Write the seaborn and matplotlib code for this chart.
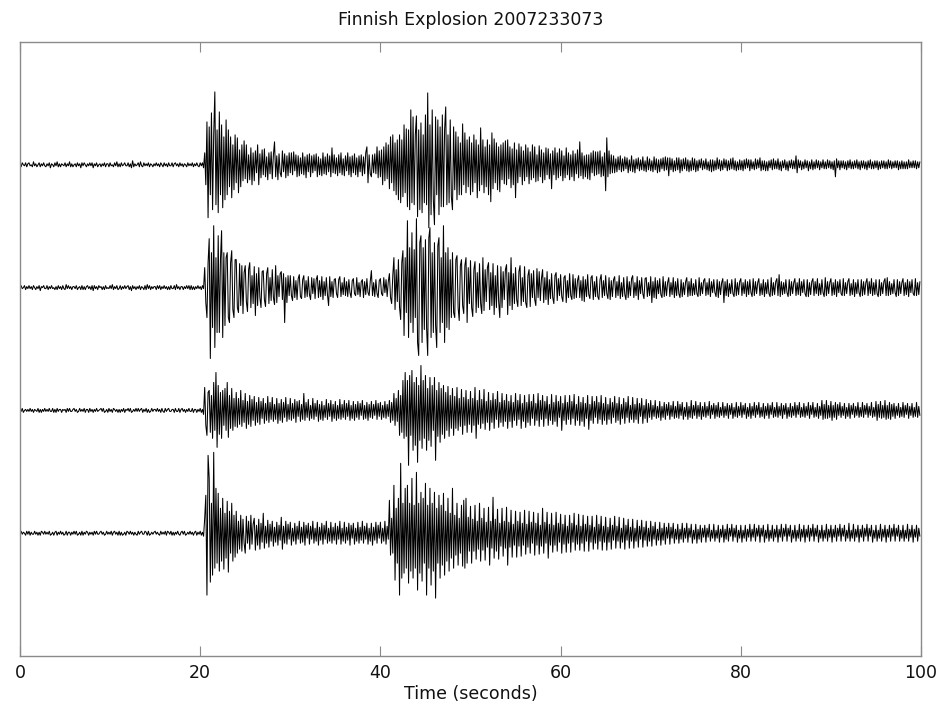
import numpy as np
import pandas as pd
import matplotlib
matplotlib.use("Agg")
import matplotlib.pyplot as plt
import seaborn as sns

# Four-channel recording of the explosion, 8 samples per second (relative counts).
DT = 0.125

ch1 = [
    1,-2,2,0,-1,2,-2,1,  2,-1,0,-2,3,-1,1,-2,  0,2,-2,1,-1,2,-1,-2,  1,-1,2,-3,1,0,-2,2,  -1,3,-2,1,-2,1,0,-1,
    2,-2,1,-1,3,-2,1,-2,  0,1,-2,2,-1,1,-3,2,  -1,2,0,-2,1,-1,2,-1,  2,-3,1,-1,2,-2,0,1,  -2,1,-1,2,-2,1,1,-2,
    2,-1,0,-2,2,-1,3,-2,  1,-2,2,-1,0,2,-1,-1,  2,-2,1,-3,4,-2,1,-1,  0,2,-2,3,-1,-2,2,-1,  1,-1,2,-2,1,0,-2,1,
    -1,2,-1,1,-2,2,0,-2,  2,-1,1,-2,2,-1,-1,2,  -2,1,2,-1,1,-2,2,-1,  1,-2,1,0,-2,2,-1,1,  -1,2,-2,1,-1,2,-1,-2,
    2,-1,2,-3,12,-20,43,-53,  38,-30,52,-45,30,73,-40,35,  -48,53,-30,40,-43,28,-35,45,  -30,35,-22,28,-33,20,-25,30,  -18,27,-28,15,-22,20,-16,24,
    -14,20,-18,10,-15,17,-20,12,  -16,14,-8,20,-20,11,-13,15,  -10,16,-12,8,-15,12,-9,13,  -14,10,23,-12,9,-15,11,-8,  -12,14,-7,11,-13,9,-11,12,
    -8,12,-10,13,-6,10,-12,9,  -11,7,-9,12,-10,8,-13,10,  -7,11,-12,9,-8,10,-6,11,  -12,8,-10,6,-11,12,-9,8,  -10,11,-7,9,-12,17,-8,10,
    -9,7,-11,10,-8,12,-10,6,  -11,9,-6,12,-10,8,-12,9,  -8,11,-10,7,-12,9,-7,10,  -11,8,-9,12,18,-18,10,-9,  -12,10,-8,11,-9,18,-13,14,
    -12,15,-20,18,-16,22,-14,20,  -24,28,-18,30,-26,22,-30,25,  -35,30,-38,25,-32,40,-28,36,  -42,35,-45,55,-38,48,-40,30,  49,-52,35,-45,42,-48,30,-38,
    50,-40,72,-63,40,-50,55,-35,  -60,48,-30,45,-50,38,-42,50,  -42,35,58,-40,30,-38,45,-32,  -45,38,-25,33,-35,28,-30,22,  -30,41,-20,32,-28,25,-22,28,
    -30,22,-27,30,-18,25,-33,20,  -26,37,-20,25,-28,18,-22,25,  -30,20,-37,32,-24,26,-18,22,  -25,18,-27,20,-15,22,-19,24,  -20,25,-14,18,-23,16,-20,22,
    -33,15,-18,21,-12,18,-20,14,  -16,20,-12,17,-19,13,-15,20,  -13,18,-17,10,-16,19,-12,15,  -18,12,-15,17,-10,16,-14,11,  -24,14,-10,17,-15,12,-13,16,
    -11,14,-16,9,-13,17,-10,12,  -15,10,-12,14,-16,11,-9,15,  -13,23,-11,12,-14,9,-12,10,  -14,10,-15,12,-8,14,-11,13,  -10,13,-9,14,-12,8,-11,12,
    -26,27,-12,14,-9,10,-8,9,  -8,6,-7,8,-5,9,-7,6,  -6,8,-4,7,-8,5,-6,9,  -7,5,-8,6,-4,7,-6,5,  -5,8,-6,4,-7,8,-5,6,
    -6,4,-7,8,-5,6,-8,5,  -7,6,-4,7,-6,8,-5,7,  -11,7,-5,6,-7,4,-6,7,  -5,7,-8,5,-6,6,-4,7,  -6,5,-7,4,-6,7,-5,6,
    -7,4,-6,5,-3,6,-5,4,  -4,6,-5,3,-6,5,-7,5,  -6,4,-5,7,-4,5,-6,4,  -5,6,-3,5,-6,4,-5,6,  -4,7,-5,4,-6,3,-5,5,
    -5,4,-6,5,-4,6,-3,5,  -6,5,-4,3,-5,6,-4,5,  -3,7,-6,4,-5,4,-6,3,  -6,4,-3,5,-5,6,-4,4,  -4,6,-5,3,-6,4,-3,5,
    -5,3,-6,4,-3,5,-4,4,  -4,9,-8,5,-3,4,-5,3,  -4,5,-3,4,-6,3,-4,5,  -5,3,-4,5,-3,4,-5,3,  -3,5,-4,3,-4,5,-3,4,
    -4,3,-5,4,-12,6,-3,4,  -5,4,-3,4,-4,3,-5,4,  -3,5,-4,3,-4,4,-3,5,  -4,3,-5,4,-3,4,-4,3,  -5,4,-3,5,-4,3,-4,4,
    -3,4,-5,3,-4,4,-3,4,  -4,3,-4,5,-3,4,-4,3,  -3,4,-3,4,-5,3,-4,4,  -4,3,-4,3,-4,5,-3,3,  -3,4,-3,4,-4,3,-3,3,
]

ch2 = [
    -1,2,-1,0,2,-2,1,-1,  2,-1,1,-2,2,0,-2,1,  -1,2,-3,1,0,2,-1,-1,  2,-2,1,-1,2,-1,0,-2,  1,-2,2,-1,1,-2,2,-1,
    -2,3,-1,2,-1,1,-2,1,  1,-1,2,-2,0,1,-2,2,  -2,1,-2,1,2,-1,1,-2,  2,-3,2,-1,1,-2,2,0,  1,-2,1,-2,2,-1,0,-1,
    2,-1,3,-2,1,-1,2,-2,  -1,2,-2,1,-1,2,-1,1,  2,-2,1,-3,2,-1,1,-2,  1,-1,2,-2,1,0,-2,2,  -2,3,-1,2,-2,1,-1,1,
    1,-2,2,-1,2,-2,1,-1,  2,-1,1,-2,1,-2,2,-1,  -1,2,-2,3,-1,1,-2,1,  1,-2,1,-1,2,-1,2,-2,  2,-2,1,-2,1,-1,2,-1,
    1,-2,2,-1,20,-15,-30,25,  49,-71,35,-40,62,-60,30,-45,  52,-45,28,57,-50,35,-38,30,  35,-30,-35,25,37,-22,-30,28,  28,-20,-25,24,-18,22,-26,15,
    22,-14,-24,18,25,-20,12,-16,  21,-28,14,-18,20,-10,-20,16,  17,-12,-19,14,20,-16,10,-13,  18,-10,-17,22,-15,12,-9,14,  16,-12,14,-35,10,-15,12,-8,
    12,-8,-13,11,-10,7,-12,9,  13,-9,-11,8,12,-10,7,-9,  11,-7,-12,10,-6,9,-11,8,  12,-10,7,-9,11,-12,6,-8,  10,-7,-18,11,-9,6,-10,8,
    9,-6,-10,8,11,-9,5,-7,  10,-8,6,-9,8,-5,-10,7,  9,-6,-8,10,-7,5,-9,6,  8,-10,6,-7,9,-5,-8,6,  17,-8,5,-9,8,-6,-10,7,
    9,-6,-8,10,-5,8,-9,6,  14,-10,-16,12,30,-22,18,-14,  28,-20,-32,25,37,-48,30,-25,  67,-50,40,-35,55,-45,38,-30,  69,-55,-68,45,52,-55,40,-42,
    48,-40,-68,50,60,-50,35,-45,  45,-38,-60,42,50,-45,30,-35,  62,-55,35,-40,40,-42,28,-30,  35,-25,-30,28,32,-20,-33,22,  28,-18,-26,22,30,-35,20,-16,
    27,-20,-29,18,26,-25,15,-20,  24,-16,-26,30,-23,18,-14,20,  25,-22,15,-18,24,-27,12,-20,  22,-14,-30,21,-20,16,-12,18,  23,-27,15,-18,30,-22,14,-16,
    20,-12,-19,16,22,-18,10,-14,  21,-15,-20,12,18,-19,14,-10,  17,-12,-18,19,-10,16,-13,9,  18,-15,10,-12,16,-17,8,-11,  14,-10,-16,12,15,-13,9,-8,
    13,-9,-14,10,12,-15,7,-10,  14,-8,-12,13,-11,9,-10,7,  12,-10,7,-13,11,-14,8,-9,  13,-7,-11,10,12,-12,6,-9,  11,-9,-12,8,13,-10,7,-8,
    12,-6,-11,10,-12,7,-9,8,  11,-10,6,-8,12,-11,5,-9,  10,-7,-12,11,-10,6,-8,9,  12,-10,5,-8,11,-12,7,-6,  10,-6,-11,9,10,-9,5,-8,
    11,-15,6,-10,10,-11,7,-6,  9,-7,-10,11,-9,6,-8,5,  10,-9,5,-7,10,-10,6,-8,  9,-6,-10,8,-9,5,-7,6,  10,-9,6,-8,9,-8,4,-7,
    8,-6,-9,10,-8,5,-6,7,  9,-8,5,-7,9,-9,6,-5,  8,-5,-9,8,-10,6,-7,5,  9,-15,6,-8,8,-9,4,-6,  8,-6,-9,9,-8,5,-7,6,
    9,-8,5,-6,8,-9,6,-7,  8,-5,-9,9,-8,6,-6,5,  9,-8,4,-7,8,-9,5,-6,  8,-6,-9,10,-8,5,-7,6,  9,-8,13,-9,6,-7,5,-6,
    8,-5,-9,8,-8,6,-6,5,  9,-8,5,-7,9,-8,6,-5,  8,-6,-9,8,-9,5,-7,6,  9,-8,6,-6,9,-8,4,-7,  8,-5,-9,10,-8,6,-6,5,
    9,-8,5,-7,8,-9,6,-5,  8,-6,-8,9,-8,5,-6,6,  9,-8,4,-7,8,-9,5,-6,  8,-5,-9,8,-8,6,-7,5,  9,-8,6,-6,9,-8,5,-7,
    8,-6,-9,8,-8,5,-6,6,  9,-8,10,-8,6,-7,4,-6,  8,-5,-9,8,-8,6,-6,5,  9,-8,5,-7,8,-9,6,-5,  8,-6,-8,9,-8,5,-7,6,
]

ch3 = [
    1,-1,2,-2,0,1,-1,1,  -1,2,-1,1,-2,1,0,-1,  2,-2,1,-2,1,-1,2,-1,  1,-1,2,-1,-1,2,-2,1,  -2,2,-1,1,1,-2,1,0,
    1,-2,2,-1,2,-1,-1,1,  2,-1,1,-2,-1,2,-1,1,  -1,2,-2,1,1,-2,2,-1,  1,-2,1,-1,2,-1,0,1,  2,-1,2,-2,-1,1,-2,2,
    -1,1,-2,2,1,-1,1,-2,  1,-2,1,-1,2,-2,1,0,  2,-1,2,-2,-1,1,-1,2,  -1,2,-1,1,2,-2,1,-1,  2,-2,1,-2,-1,2,-1,1,
    1,-1,2,-1,1,-2,2,-1,  -2,2,-1,1,2,-1,-1,1,  1,-2,2,-1,-1,2,-2,1,  2,-1,1,-2,1,-1,2,-1,  -1,2,-2,1,1,-2,1,-1,
    2,-2,1,-4,23,-15,-25,18,  20,-22,15,-28,28,-20,38,-37,  25,-24,18,-28,20,-15,22,-20,  28,-27,15,-18,22,-20,12,-16,  18,-17,12,-14,20,-16,10,-12,
    17,-18,9,-14,15,-16,11,-10,  14,-15,8,-12,13,-14,9,-8,  12,-13,7,-10,14,-12,8,-9,  13,-11,6,-9,12,-13,7,-10,  11,-12,8,-7,13,-11,6,-9,
    12,-10,7,-8,11,-12,9,-6,  10,-11,6,-9,17,-10,8,-7,  11,-10,5,-8,12,-9,7,-6,  10,-11,6,-9,9,-10,5,-7,  11,-9,7,-6,10,-11,6,-8,
    9,-10,5,-8,11,-9,6,-7,  10,-9,7,-6,10,-10,5,-8,  9,-10,6,-7,9,-9,7,-5,  10,-9,5,-8,8,-10,6,-7,  9,-8,6,-5,10,-9,7,-6,
    8,-9,5,-7,9,-8,6,-6,  10,-12,8,-10,17,-15,12,-11,  20,-25,15,-22,30,-28,38,-26,  30,-55,35,-25,40,-40,28,-35,  33,-52,25,-30,45,-38,30,-28,
    35,-40,22,-30,33,-36,25,-20,  33,-50,20,-26,28,-32,22,-24,  25,-28,18,-20,24,-26,15,-18,  22,-25,14,-18,23,-20,12,-16,  21,-24,13,-15,20,-22,11,-14,
    19,-22,12,-15,23,-28,10,-14,  20,-18,11,-13,21,-19,9,-12,  18,-20,10,-12,17,-18,11,-9,  19,-17,8,-12,17,-16,10,-11,  16,-18,9,-11,15,-17,8,-10,
    17,-15,10,-9,16,-18,7,-11,  15,-17,8,-12,16,-15,9,-8,  16,-15,7,-10,17,-16,10,-9,  15,-16,9,-8,14,-15,6,-10,  16,-14,8,-11,15,-16,9,-7,
    14,-20,7,-10,15,-14,8,-9,  15,-14,9,-8,16,-15,6,-10,  14,-15,8,-11,13,-16,7,-8,  15,-19,6,-10,14,-13,9,-7,  14,-13,8,-9,15,-14,7,-10,
    13,-14,6,-9,12,-13,8,-7,  14,-12,7,-10,13,-14,6,-8,  12,-13,8,-7,14,-12,5,-9,  13,-12,6,-9,12,-13,7,-6,  12,-13,5,-8,11,-12,7,-7,
    10,-9,5,-6,10,-8,4,-7,  9,-10,4,-7,8,-9,6,-5,  8,-9,5,-6,9,-8,4,-7,  9,-8,6,-5,8,-9,3,-6,  8,-9,4,-7,10,-8,5,-5,
    9,-8,5,-6,8,-9,4,-6,  8,-7,4,-5,9,-8,5,-4,  7,-8,5,-6,8,-7,3,-5,  8,-7,4,-5,7,-8,5,-4,  7,-8,3,-6,8,-7,4,-5,
    8,-7,5,-4,7,-8,3,-6,  7,-8,4,-5,8,-7,5,-4,  8,-7,3,-6,7,-8,4,-5,  7,-8,5,-4,8,-7,3,-6,  8,-7,4,-5,7,-8,5,-4,
    7,-8,3,-6,7,-7,4,-5,  8,-7,5,-4,8,-7,3,-6,  7,-7,4,-5,8,-8,5,-4,  8,-7,3,-6,7,-8,4,-5,  10,-9,6,-8,10,-8,5,-7,
    9,-10,5,-7,8,-9,6,-5,  8,-7,4,-5,7,-8,3,-6,  7,-8,5,-4,7,-7,4,-5,  8,-7,3,-6,8,-7,5,-4,  7,-7,4,-5,8,-7,3,-6,
    9,-10,6,-7,9,-8,5,-7,  10,-9,5,-8,8,-9,6,-6,  7,-8,4,-5,7,-7,3,-6,  8,-7,5,-4,7,-8,4,-5,  7,-7,3,-6,8,-7,4,-5,
]

ch4 = [
    -1,2,-1,1,0,-2,2,-1,  2,-2,1,-1,-1,2,-1,1,  -2,1,-2,2,1,-1,2,-1,  1,-1,2,-2,-1,1,-2,1,  2,-2,1,-1,2,-1,1,-2,
    -1,2,-2,1,1,-2,1,-1,  2,-1,2,-2,-1,1,-2,2,  -2,1,-1,2,1,-2,1,-1,  1,-2,2,-1,2,-1,-1,1,  2,-1,1,-2,-1,2,-1,1,
    -1,2,-2,1,2,-1,1,-2,  2,-2,1,-2,-1,1,-2,2,  1,-1,2,-1,1,-2,1,-1,  -2,2,-1,1,2,-1,-1,2,  1,-2,2,-2,-1,1,-1,1,
    2,-1,1,-1,-2,2,-1,1,  -1,2,-2,2,1,-1,2,-2,  1,-2,1,-1,2,-1,-2,1,  2,-1,2,-2,-1,1,-1,2,  -1,1,-2,1,2,-2,1,-1,
    2,-2,1,-3,15,38,-62,78,  55,-49,30,-42,81,-35,45,-30,  40,-38,25,-28,35,-36,20,-25,  32,-39,22,-20,30,-28,18,-24,  22,-20,12,-16,18,-18,14,-10,
    -20,17,-10,12,-16,18,-11,9,  15,-17,8,-12,14,-16,10,-9,  20,-15,7,-10,13,-14,9,-8,  12,-13,6,-9,11,-12,8,-7,  16,-16,7,-10,12,-11,9,-6,
    11,-12,5,-8,10,-11,7,-6,  12,-10,6,-9,11,-12,8,-5,  10,-11,7,-6,12,-10,5,-8,  11,-12,6,-7,10,-11,8,-6,  12,-10,5,-8,11,-10,6,-7,
    10,-11,7,-6,12,-11,5,-8,  11,-10,6,-7,10,-12,8,-5,  10,-11,5,-8,11,-10,6,-7,  12,-10,7,-6,10,-11,5,-8,  10,-12,6,-7,11,-10,8,-5,
    11,-10,5,-8,12,-11,7,-6,  33,-22,15,-20,48,-47,25,-30,  35,-62,70,-45,30,-40,45,-35,  48,-50,30,-38,55,-45,28,-35,  61,-57,30,-40,41,-48,35,-30,
    50,-62,28,-35,45,-52,30,-38,  41,-65,25,-30,38,-45,28,-32,  40,-42,22,-28,35,-38,20,-25,  45,-35,18,-22,30,-32,15,-20,  28,-33,33,-35,35,-30,16,-18,
    27,-30,14,-18,28,-26,12,-16,  30,-28,15,-17,25,-27,11,-14,  26,-32,12,-15,36,-25,14,-18,  24,-26,10,-13,25,-23,12,-15,  26,-32,11,-14,23,-24,9,-12,
    22,-24,12,-13,21,-23,10,-12,  23,-21,9,-14,22,-20,11,-10,  21,-22,10,-12,20,-21,8,-13,  25,-20,11,-10,21,-25,9,-12,  20,-19,8,-12,21,-18,10,-9,
    19,-20,9,-11,18,-19,7,-10,  18,-19,10,-9,20,-17,8,-11,  19,-17,7,-10,18,-18,9,-8,  17,-18,8,-9,17,-16,6,-10,  18,-16,9,-8,17,-17,7,-9,
    16,-17,6,-9,15,-16,8,-7,  17,-15,7,-8,16,-15,5,-9,  15,-16,8,-7,14,-15,6,-8,  14,-15,5,-8,13,-14,7,-6,  13,-14,6,-7,12,-13,5,-8,
    12,-13,7,-6,11,-12,4,-7,  11,-12,5,-7,10,-11,6,-5,  10,-11,6,-5,10,-10,4,-6,  9,-10,4,-6,10,-9,5,-5,  10,-9,5,-4,9,-10,3,-6,
    9,-10,4,-6,8,-9,5,-4,  8,-9,5,-4,9,-8,3,-5,  9,-8,3,-5,8,-9,4,-4,  8,-9,4,-6,9,-8,5,-3,  9,-8,5,-4,8,-9,3,-5,
    8,-9,3,-5,8,-8,4,-4,  9,-8,4,-4,9,-8,5,-3,  8,-9,5,-3,8,-9,3,-5,  9,-8,3,-5,8,-8,4,-4,  8,-9,4,-4,9,-8,5,-3,
    9,-8,5,-3,8,-9,3,-5,  8,-8,3,-5,9,-8,4,-4,  8,-9,4,-4,8,-8,5,-3,  9,-8,5,-3,8,-9,3,-5,  8,-8,3,-5,9,-8,4,-4,
    8,-9,4,-4,8,-8,5,-3,  9,-8,5,-3,8,-8,3,-5,  10,-8,3,-5,9,-8,4,-4,  8,-9,4,-4,8,-8,5,-3,  9,-8,5,-3,8,-9,3,-5,
    8,-8,3,-5,9,-8,4,-4,  8,-9,4,-4,8,-8,5,-3,  9,-8,5,-3,8,-8,3,-5,  8,-8,3,-5,9,-8,4,-4,  8,-9,4,-4,8,-8,5,-3,
]

channels = [ch1, ch2, ch3, ch4]
title = "Finnish Explosion 2007233073"
xlabel = "Time (seconds)"
xticks = [0, 20, 40, 60, 80, 100]

# counts per unit of trace spacing
GAIN = 123.0

frames = []
for k, ch in enumerate(channels):
    amp = np.asarray(ch, dtype=float)
    t = np.arange(len(amp)) * DT
    frames.append(pd.DataFrame({
        "time": t,
        "trace": k,
        "y": (len(channels) - k) + amp / GAIN,
    }))
df = pd.concat(frames, ignore_index=True)

sns.set_theme(style="white")
plt.rcParams["font.family"] = ["DejaVu Sans"]

fig = plt.figure(figsize=(9.38, 7.07), dpi=100)
ax = fig.add_axes([0.0213, 0.0721, 0.9606, 0.8685])

sns.lineplot(data=df, x="time", y="y", units="trace", estimator=None,
             color="black", linewidth=0.75, sort=False, ax=ax, legend=False)

ax.set_xlim(0, 100)
ax.set_ylim(0, len(channels) + 1)
ax.set_xticks(xticks)
ax.set_yticks([])
ax.set_xlabel(xlabel, fontsize=12.5, color="#111111", labelpad=2)
ax.set_ylabel("")
ax.set_title(title, fontsize=12.5, color="#111111", pad=12)

for s in ax.spines.values():
    s.set_visible(True)
    s.set_color("#8a8a8a")
    s.set_linewidth(1.0)

ax.tick_params(axis="x", which="both", direction="in", length=7, width=0.8,
               color="#8a8a8a", top=True, bottom=True, labelsize=12.5,
               labelcolor="#111111", pad=6)

fig.savefig("out.png", dpi=100)
